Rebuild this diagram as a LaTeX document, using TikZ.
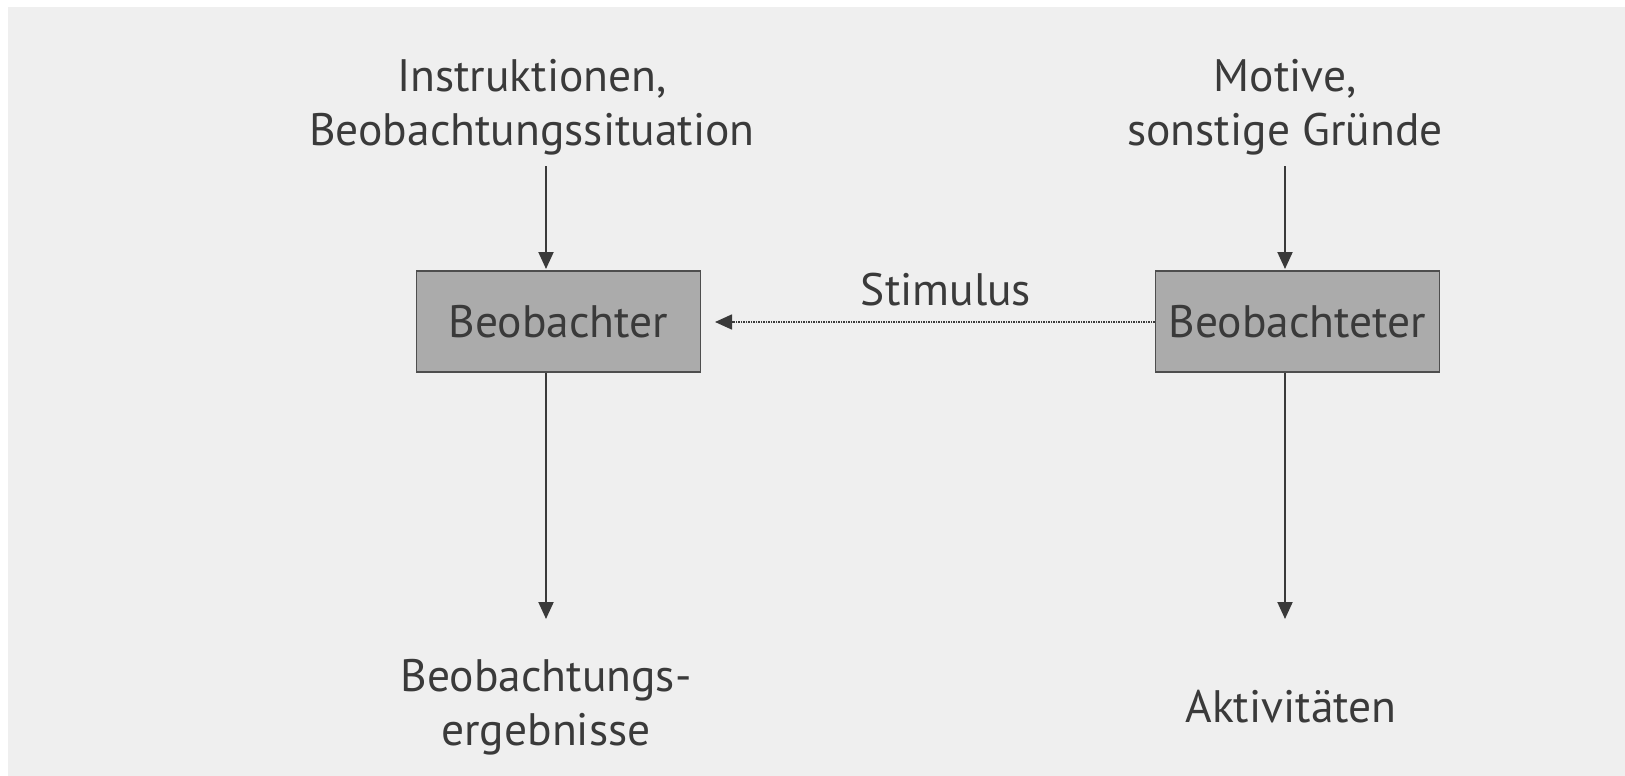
\documentclass[tikz,border=0pt]{standalone}
\usepackage{fontspec}
\setmainfont{PT Sans}
\usetikzlibrary{arrows.meta}
\definecolor{bg}{HTML}{EFEFEF}
\definecolor{boxfill}{HTML}{ABABAB}
\definecolor{ink}{HTML}{3A3A3A}
\begin{document}
\begin{tikzpicture}[x=1pt,y=-1pt,
  every node/.style={font=\fontsize{45.5}{54}\selectfont, text=ink},
  boxnode/.style={draw=ink!90, line width=1.4pt, fill=boxfill, minimum width=284pt, minimum height=101pt, inner sep=0pt},
  lbl/.style={align=center, inner sep=0pt},
  arr/.style={draw=ink, line width=2pt, -{Triangle[length=17pt,width=15pt]}},
  dotarr/.style={draw=ink, line width=1.6pt, dash pattern=on 1.5pt off 1pt, -{Triangle[length=17pt,width=15pt]}}]
\useasboundingbox (0,0) rectangle (1625,776);
\fill[white] (0,0) rectangle (1625,776);
\fill[bg] (8,7) rectangle (1625,776);
\node[boxnode] (b1) at (558.5,321.3) {Beobachter};
\node[boxnode] (b2) at (1297.5,321.3) {Beobachteter};
\node[lbl] (t1) at (532,107) {Instruktionen,\\Beobachtungssituation};
\node[lbl] (t2) at (1285,107) {Motive,\\sonstige Gründe};
\node[lbl] (r1) at (546,707) {Beobachtungs-\\ergebnisse};
\node[lbl] (r2) at (1291,707) {Aktivitäten};
\node[lbl] (st) at (946,290) {Stimulus};
\coordinate (a1s) at (546,166);
\coordinate (a1e) at (546,269);
\coordinate (a2s) at (1285,166);
\coordinate (a2e) at (1285,269);
\coordinate (d1e) at (546,619);
\coordinate (d2e) at (1285,619);
\coordinate (se) at (715,322);
\draw[arr] (a1s) -- (a1e);
\draw[arr] (a2s) -- (a2e);
\draw[arr] (b1.south -| a1s) -- (d1e);
\draw[arr] (b2.south -| a2s) -- (d2e);
\draw[dotarr] (b2.west |- se) -- (se);
\end{tikzpicture}
\end{document}
